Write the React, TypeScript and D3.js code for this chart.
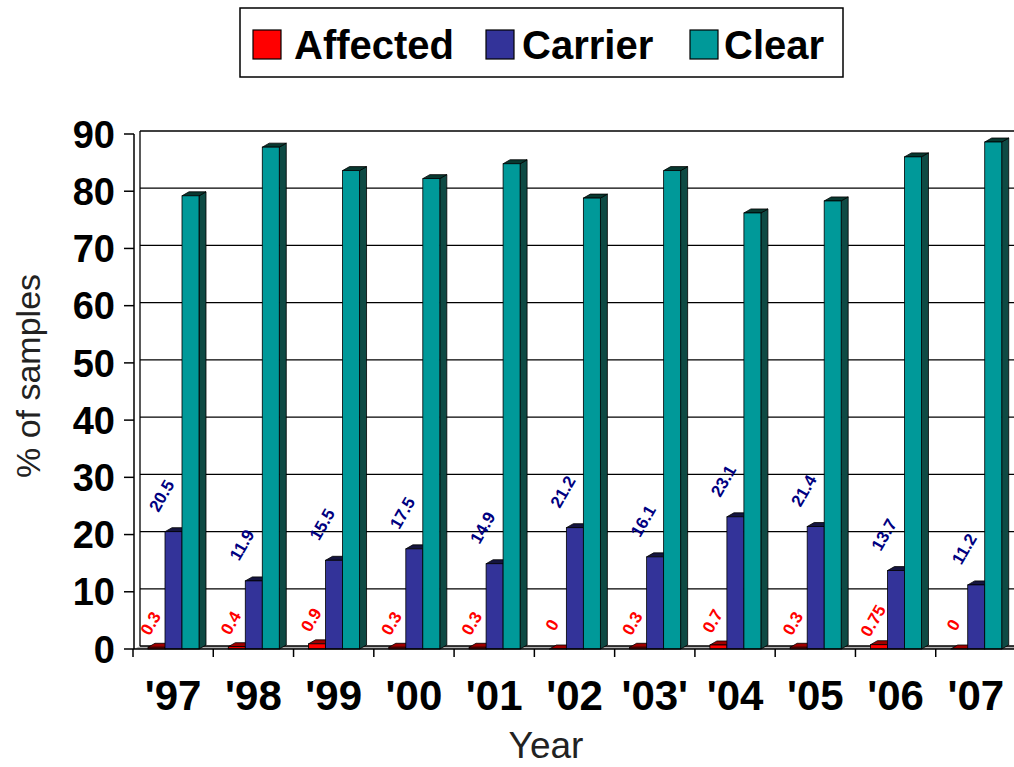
import React from "react";
import * as d3 from "d3";

const years = ["'97", "'98", "'99", "'00", "'01", "'02", "'03'", "'04", "'05", "'06", "'07"];
const affected = [0.3, 0.4, 0.9, 0.3, 0.3, 0, 0.3, 0.7, 0.3, 0.75, 0];
const carrier = [20.5, 11.9, 15.5, 17.5, 14.9, 21.2, 16.1, 23.1, 21.4, 13.7, 11.2];
const clear = [79.2, 87.7, 83.6, 82.2, 84.8, 78.8, 83.6, 76.2, 78.3, 86.0, 88.6];
const affectedLabels = ["0.3", "0.4", "0.9", "0.3", "0.3", "0", "0.3", "0.7", "0.3", "0.75", "0"];
const carrierLabels = ["20.5", "11.9", "15.5", "17.5", "14.9", "21.2", "16.1", "23.1", "21.4", "13.7", "11.2"];
const yTicks = [0, 10, 20, 30, 40, 50, 60, 70, 80, 90];
const seriesNames = ["Affected", "Carrier", "Clear"];

const W = 1014;
const H = 767;
const FONT = "'Liberation Sans', Arial, sans-serif";

const colors = {
  Affected: { front: "#ff0000", side: "#800000", top: "#a00000" },
  Carrier: { front: "#333399", side: "#1a1a50", top: "#151540" },
  Clear: { front: "#009999", side: "#0e4a44", top: "#083830" },
};

export default function App() {
  const x = d3.scaleBand<string>().domain(years).range([133, 1016]).paddingInner(0).paddingOuter(0);
  const y = d3.scaleLinear().domain([0, 90]).range([649, 134]);
  const inner = d3.scaleBand<string>().domain(seriesNames).range([15, 66]).padding(0);
  const bw = inner.bandwidth();
  const dx = 7;
  const dy = -4;
  const wallDx = 6;
  const wallDy = -3;

  const series = [
    { name: "Affected", values: affected },
    { name: "Carrier", values: carrier },
    { name: "Clear", values: clear },
  ];

  const bars: JSX.Element[] = [];
  years.forEach((yr, i) => {
    series.forEach((s) => {
      const v = s.values[i];
      const x0 = (x(yr) as number) + (inner(s.name) as number);
      const x1 = x0 + bw;
      const yt = y(v);
      const yb = y(0);
      const c = (colors as any)[s.name];
      bars.push(
        <g key={`${yr}-${s.name}`}>
          <polygon
            points={`${x1},${yb} ${x1 + dx},${yb + dy} ${x1 + dx},${yt + dy} ${x1},${yt}`}
            fill={c.side}
            stroke="#000"
            strokeWidth={0.8}
          />
          <polygon
            points={`${x0},${yt} ${x0 + dx},${yt + dy} ${x1 + dx},${yt + dy} ${x1},${yt}`}
            fill={c.top}
            stroke="#000"
            strokeWidth={0.8}
          />
          <rect x={x0} y={yt} width={bw} height={Math.max(0, yb - yt)} fill={c.front} stroke="#000" strokeWidth={0.8} />
        </g>
      );
    });
  });

  const labels: JSX.Element[] = [];
  years.forEach((yr, i) => {
    const ax = (x(yr) as number) + (inner("Affected") as number) + bw / 2 - 6;
    const ay = y(affected[i]) - 24;
    labels.push(
      <text
        key={`al-${i}`}
        transform={`translate(${ax},${ay}) rotate(-60)`}
        textAnchor="middle"
        dy="0.35em"
        fontFamily={FONT}
        fontWeight="bold"
        fontSize={17}
        fill="#ff0000"
      >
        {affectedLabels[i]}
      </text>
    );
    const cx = (x(yr) as number) + (inner("Carrier") as number) + bw / 2 - 12;
    const cy = y(carrier[i]) - 36;
    labels.push(
      <text
        key={`cl-${i}`}
        transform={`translate(${cx},${cy}) rotate(-60)`}
        textAnchor="middle"
        dy="0.35em"
        fontFamily={FONT}
        fontWeight="bold"
        fontSize={17}
        fill="#000080"
      >
        {carrierLabels[i]}
      </text>
    );
  });

  const legendItems = [
    { name: "Affected", sx: 253, tx: 294 },
    { name: "Carrier", sx: 486, tx: 522 },
    { name: "Clear", sx: 690, tx: 724 },
  ];

  return (
    <svg width={W} height={H} style={{ position: "absolute", left: 0, top: 0, background: "#fff" }}>
      <rect x={0} y={0} width={W} height={H} fill="#fff" />
      {/* floor */}
      <polygon
        points={`134,${y(0)} ${134 + wallDx},${y(0) + wallDy} ${W},${y(0) + wallDy} ${W},${y(0)}`}
        fill="#b0b0b0"
      />
      {/* back wall gridlines */}
      {yTicks.map((t) => (
        <line key={`g${t}`} x1={134 + wallDx} x2={W} y1={y(t) + wallDy} y2={y(t) + wallDy} stroke="#000" strokeWidth={1.3} />
      ))}
      <line x1={134 + wallDx} x2={134 + wallDx} y1={y(0) + wallDy} y2={y(90) + wallDy} stroke="#000" strokeWidth={1.3} />
      {bars}
      {/* axes */}
      <line x1={134} x2={134} y1={y(90)} y2={y(0)} stroke="#000" strokeWidth={1.5} />
      <line x1={134} x2={W} y1={y(0)} y2={y(0)} stroke="#000" strokeWidth={1.5} />
      {yTicks.map((t) => (
        <g key={`yt${t}`}>
          <line x1={124} x2={134} y1={y(t)} y2={y(t)} stroke="#000" strokeWidth={1.5} />
          <text x={115} y={y(t)} dy="0.36em" textAnchor="end" fontFamily={FONT} fontWeight="bold" fontSize={38} fill="#000">
            {t}
          </text>
        </g>
      ))}
      {years.map((yr, i) => (
        <g key={`xt${i}`}>
          <line x1={x(yr) as number} x2={x(yr) as number} y1={y(0)} y2={y(0) + 8} stroke="#000" strokeWidth={1.5} />
          <text
            x={(x(yr) as number) + x.bandwidth() / 2}
            y={710}
            textAnchor="middle"
            fontFamily={FONT}
            fontWeight="bold"
            fontSize={42}
            fill="#000"
          >
            {yr}
          </text>
        </g>
      ))}
      {labels}
      {/* axis titles */}
      <text x={546} y={758} textAnchor="middle" fontFamily={FONT} fontSize={37} fill="#222">
        Year
      </text>
      <text
        transform={`translate(40,376) rotate(-90)`}
        textAnchor="middle"
        fontFamily={FONT}
        fontSize={34}
        fill="#222"
      >
        % of samples
      </text>
      {/* legend */}
      <rect x={240} y={8} width={603} height={69} fill="#fff" stroke="#000" strokeWidth={1.5} />
      {legendItems.map((it) => (
        <g key={it.name}>
          <rect x={it.sx} y={30} width={28} height={29} fill={(colors as any)[it.name].front} stroke="#000" strokeWidth={1.2} />
          <text x={it.tx} y={59} fontFamily={FONT} fontWeight="bold" fontSize={40} fill="#000">
            {it.name}
          </text>
        </g>
      ))}
    </svg>
  );
}
